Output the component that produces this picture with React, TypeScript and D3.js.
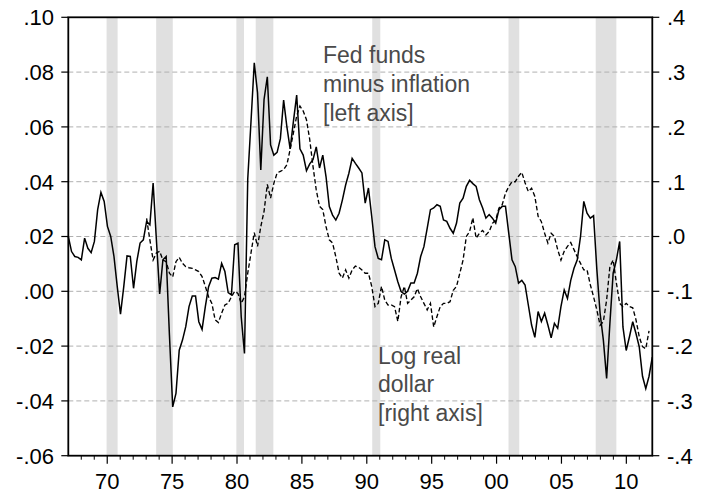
import React from 'react';
import * as d3 from 'd3';

// Fed funds minus inflation (left axis), quarterly from 1967Q1
const fedFunds: number[] = [
  0.020, 0.0145, 0.0127, 0.0124,
  0.0115, 0.0194, 0.0157, 0.0141,
  0.0182, 0.0298, 0.0361, 0.0328,
  0.0237, 0.020, 0.0127, 0.0017,
  -0.0083, 0.0017, 0.0129, 0.0127,
  0.0011, 0.0109, 0.0176, 0.0188,
  0.0255, 0.0243, 0.0395, 0.0188,
  -0.001, 0.0115, 0.0127, -0.016,
  -0.0422, -0.0373, -0.0215, -0.0178,
  -0.0129, -0.0056, -0.0017, -0.0017,
  -0.0111, -0.0139, -0.0056, 0.0017,
  0.0048, 0.005, 0.0044, 0.0102,
  0.0072, -0.0005, -0.0013, 0.017,
  0.0176, -0.0093, -0.0227, 0.041,
  0.062, 0.0834, 0.0724, 0.0443,
  0.070, 0.0783, 0.0534, 0.0497,
  0.0507, 0.0557, 0.0698, 0.060,
  0.052, 0.062, 0.0716, 0.052,
  0.0497, 0.044, 0.0465, 0.048,
  0.0527, 0.045, 0.0497, 0.0418,
  0.0309, 0.0278, 0.026, 0.0285,
  0.0333, 0.0388, 0.0431, 0.0485,
  0.0467, 0.045, 0.0432, 0.0322,
  0.0377, 0.0273, 0.0163, 0.012,
  0.0115, 0.0188, 0.0182, 0.012,
  0.0078, 0.0035, -0.0001, -0.001,
  0.0, 0.003, 0.003, 0.0066,
  0.0127, 0.0163, 0.023, 0.0298,
  0.0304, 0.0316, 0.031, 0.026,
  0.0255, 0.023, 0.0212, 0.0249,
  0.0322, 0.034, 0.0383, 0.0405,
  0.0393, 0.0383, 0.0334, 0.0304,
  0.0267, 0.028, 0.0267, 0.0249,
  0.0298, 0.031, 0.031, 0.0212,
  0.0115, 0.009, 0.003, 0.004,
  0.0023, -0.005, -0.0123, -0.0168,
  -0.0074, -0.011, -0.008, -0.0123,
  -0.017, -0.0117, -0.0135, -0.0056,
  0.0005, -0.0026, 0.004, 0.0084,
  0.0115, 0.020, 0.0328, 0.0285,
  0.0267, 0.0276, 0.008, -0.008,
  -0.0178, -0.0318, -0.0117, 0.0066,
  0.0115, 0.0182, -0.013, -0.0216,
  -0.0166, -0.0111, -0.0154, -0.0203,
  -0.031, -0.0355, -0.031, -0.024,
];

// Log real dollar (right axis), quarterly from 1973Q1
const logDollar: number[] = [
  0.033, -0.006, -0.043, -0.03,
  -0.027, -0.043, -0.046, -0.067,
  -0.074, -0.046, -0.038, -0.049,
  -0.055, -0.057, -0.058, -0.061,
  -0.064, -0.073, -0.091, -0.11,
  -0.122, -0.152, -0.157, -0.14,
  -0.125, -0.122, -0.11, -0.10,
  -0.104, -0.122, -0.11, -0.067,
  -0.03, 0.007, -0.018, 0.018,
  0.046, 0.095, 0.07, 0.097,
  0.116, 0.119, 0.122, 0.131,
  0.159, 0.189, 0.22, 0.238,
  0.229, 0.213, 0.177, 0.128,
  0.085, 0.055, 0.049, 0.018,
  -0.006, -0.012, -0.037, -0.067,
  -0.076, -0.061, -0.076, -0.061,
  -0.054, -0.056, -0.061, -0.067,
  -0.067, -0.091, -0.128, -0.122,
  -0.091, -0.116, -0.125, -0.125,
  -0.128, -0.155, -0.11, -0.091,
  -0.122, -0.116, -0.11, -0.095,
  -0.11, -0.122, -0.134, -0.122,
  -0.165, -0.146, -0.128, -0.122,
  -0.122, -0.119, -0.098, -0.091,
  -0.067, -0.043, 0.0, 0.009,
  0.034, -0.003, 0.006, 0.011,
  0.003, 0.009, 0.024, 0.03,
  0.052, 0.058, 0.079, 0.091,
  0.1, 0.1, 0.11, 0.117,
  0.098, 0.082, 0.088, 0.073,
  0.037, 0.027, 0.006, -0.012,
  0.006, 0.0, -0.024, -0.043,
  -0.027, -0.018, -0.011, -0.024,
  -0.037, -0.049, -0.061, -0.061,
  -0.088, -0.11, -0.134, -0.162,
  -0.155, -0.116, -0.055, -0.043,
  -0.085, -0.122, -0.128, -0.122,
  -0.128, -0.13, -0.152, -0.183,
  -0.201, -0.205, -0.172,
];

const fedStart = 1967;
const dollarStart = 1973;
const lastObs = 2011.75;

// Recession shading (start, end) in years
const recessions: [number, number][] = [
  [1969.95, 1970.8],
  [1973.77, 1975.05],
  [1979.95, 1980.54],
  [1981.44, 1982.8],
  [1990.42, 1991.04],
  [2000.92, 2001.75],
  [2007.64, 2009.23],
];

const leftTicks = [-0.06, -0.04, -0.02, 0, 0.02, 0.04, 0.06, 0.08, 0.1];
const leftLabels = ['-.06', '-.04', '-.02', '.00', '.02', '.04', '.06', '.08', '.10'];
const rightTicks = [-0.4, -0.3, -0.2, -0.1, 0, 0.1, 0.2, 0.3, 0.4];
const rightLabels = ['-.4', '-.3', '-.2', '-.1', '.0', '.1', '.2', '.3', '.4'];
const xMajor = [1970, 1975, 1980, 1985, 1990, 1995, 2000, 2005, 2010];
const xLabels = ['70', '75', '80', '85', '90', '95', '00', '05', '10'];
const fedNote = ['Fed funds', 'minus inflation', '[left axis]'];
const dollarNote = ['Log real', 'dollar', '[right axis]'];

const W = 704;
const H = 496;
const L = 68.3;
const R = 652.3;
const T = 17.3;
const B = 455.7;
const FONT = '"Liberation Sans", Arial, Helvetica, sans-serif';

export default function App() {
  const xAxis = d3.scaleLinear().domain([1967, 2012]).range([L, R]);
  const xData = d3.scaleLinear().domain([fedStart, lastObs]).range([L, R]);
  const yL = d3.scaleLinear().domain([-0.06, 0.1]).range([B, T]);
  const yR = d3.scaleLinear().domain([-0.4, 0.4]).range([B, T]);

  const fedLine = d3
    .line<number>()
    .x((_, i) => xData(fedStart + i * 0.25))
    .y((v) => yL(v));
  const dollarLine = d3
    .line<number>()
    .x((_, i) => xData(dollarStart + i * 0.25))
    .y((v) => yR(v));

  const minorYears = d3.range(1968, 2012).filter((y) => y % 5 !== 0);
  const gridTicks = leftTicks.filter((t) => t > -0.06 && t < 0.1);

  return (
    <svg
      width={W}
      height={H}
      style={{ position: 'absolute', left: 0, top: 0, background: '#fff' }}
      fontFamily={FONT}
    >
      <rect x={0} y={0} width={W} height={H} fill="#fff" />
      {recessions.map(([a, b], i) => (
        <rect
          key={'rec' + i}
          x={xAxis(a)}
          y={T}
          width={xAxis(b) - xAxis(a)}
          height={B - T}
          fill="#e0e0e0"
        />
      ))}
      {gridTicks.map((t) => (
        <line
          key={'g' + t}
          x1={L}
          x2={R}
          y1={yL(t)}
          y2={yL(t)}
          stroke="#b0b0b0"
          strokeWidth={1}
          strokeDasharray="5,3"
        />
      ))}
      <path
        d={dollarLine(logDollar) || ''}
        fill="none"
        stroke="#000"
        strokeWidth={1.35}
        strokeDasharray="4.5,2.5"
      />
      <path d={fedLine(fedFunds) || ''} fill="none" stroke="#000" strokeWidth={1.5} />
      <rect x={L} y={T} width={R - L} height={B - T} fill="none" stroke="#000" strokeWidth={1.8} />
      {leftTicks.map((t, i) => (
        <g key={'lt' + i}>
          <line x1={L - 7} x2={L} y1={yL(t)} y2={yL(t)} stroke="#000" strokeWidth={1.2} />
          <text x={54} y={yL(t)} dy="0.36em" textAnchor="end" fontSize={22} fill="#000">
            {leftLabels[i]}
          </text>
        </g>
      ))}
      {rightTicks.map((t, i) => (
        <g key={'rt' + i}>
          <line x1={R} x2={R + 7} y1={yR(t)} y2={yR(t)} stroke="#000" strokeWidth={1.2} />
          <text x={667} y={yR(t)} dy="0.36em" textAnchor="start" fontSize={22} fill="#000">
            {rightLabels[i]}
          </text>
        </g>
      ))}
      {minorYears.map((y) => (
        <line key={'mn' + y} x1={xAxis(y)} x2={xAxis(y)} y1={B} y2={B + 4} stroke="#000" strokeWidth={1} />
      ))}
      {xMajor.map((y, i) => (
        <g key={'mj' + y}>
          <line x1={xAxis(y)} x2={xAxis(y)} y1={B} y2={B + 8} stroke="#000" strokeWidth={1.2} />
          <text x={xAxis(y)} y={489} textAnchor="middle" fontSize={22} fill="#000">
            {xLabels[i]}
          </text>
        </g>
      ))}
      {fedNote.map((s, i) => (
        <text key={'fn' + i} x={323} y={62.5 + i * 29} fontSize={23} fill="#4a4a4a">
          {s}
        </text>
      ))}
      {dollarNote.map((s, i) => (
        <text key={'dn' + i} x={378} y={363.5 + i * 28.5} fontSize={23} fill="#4a4a4a">
          {s}
        </text>
      ))}
    </svg>
  );
}
